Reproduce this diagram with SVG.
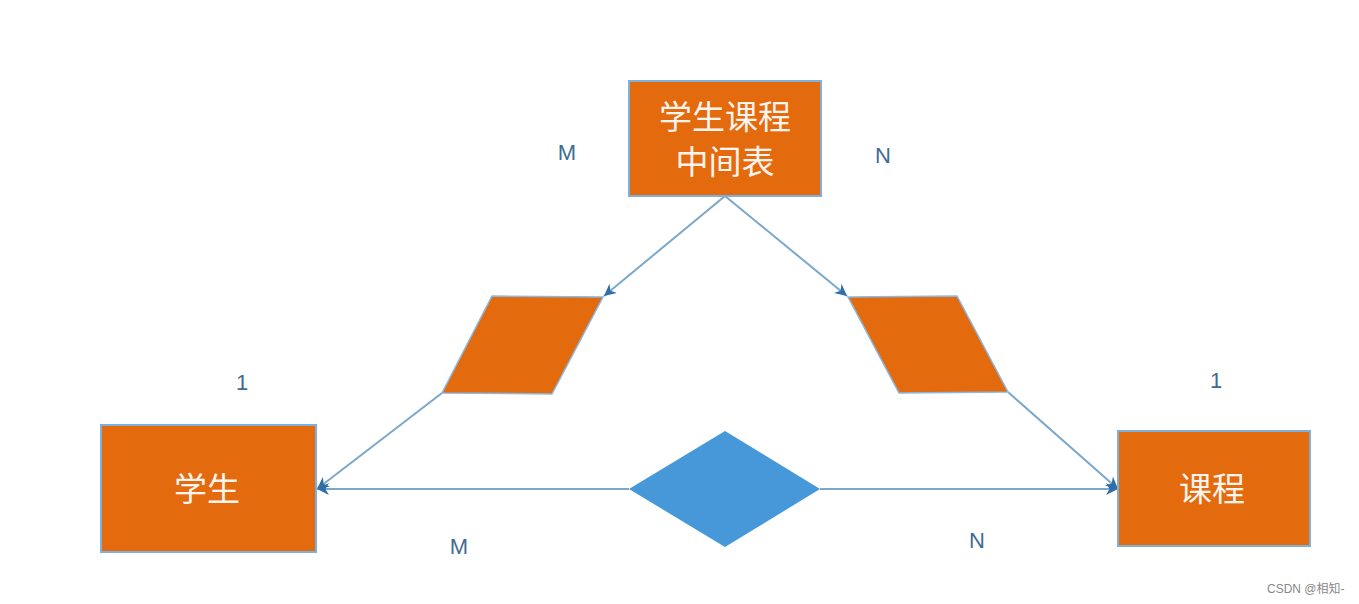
<svg xmlns="http://www.w3.org/2000/svg" width="1359" height="604" viewBox="0 0 1359 604">
<style>
.box{fill:#e46a0e;stroke:#7fb0dc;stroke-width:2}
.para{fill:#e46a0e;stroke:#8ab8e0;stroke-width:1.5}
.dia{fill:#4698d9}
.t{font-family:"Noto Sans CJK SC","Liberation Sans",sans-serif;fill:#fff4ee;font-size:33px;text-anchor:middle}
.lbl{font-family:"Liberation Sans",Arial,sans-serif;fill:#3f6b94;font-size:22px;text-anchor:middle}
.ln{stroke:#7ba7cb;stroke-width:2;fill:none;marker-end:url(#ah)}
.wm{font-family:"Liberation Sans","Noto Sans CJK SC",sans-serif;fill:#888;font-size:12px}
</style>
<defs>
<marker id="ah" viewBox="0 0 10 10" refX="10" refY="5" markerWidth="13" markerHeight="12" orient="auto" markerUnits="userSpaceOnUse">
<path d="M0,0 L10,5 L0,10 L3,5 Z" fill="#2f6ea6"/>
</marker>
</defs>
<rect width="1359" height="604" fill="#ffffff"/>
<g id="connectors">
<line class="ln" x1="725" y1="196" x2="604" y2="296"/>
<line class="ln" x1="725" y1="196" x2="847" y2="296"/>
<line class="ln" x1="442" y1="393" x2="317" y2="489"/>
<line class="ln" x1="1008" y1="392" x2="1118" y2="489"/>
<line class="ln" x1="629" y1="489" x2="317" y2="489"/>
<line class="ln" x1="820" y1="489" x2="1118" y2="489"/>
</g>
<g id="node-middle">
<rect class="box" x="629" y="81" width="192" height="115"/>
<text class="t" x="725" y="129">学生课程</text>
<text class="t" x="725" y="174">中间表</text>
</g>
<g id="node-para-left">
<polygon class="para" points="492,296 603,297 552,394 442,393"/>
</g>
<g id="node-para-right">
<polygon class="para" points="848,297 957,296 1008,392 899,393"/>
</g>
<g id="node-student">
<rect class="box" x="101" y="425" width="215" height="127"/>
<text class="t" x="207" y="501">学生</text>
</g>
<g id="node-course">
<rect class="box" x="1118" y="431" width="192" height="115"/>
<text class="t" x="1212" y="501">课程</text>
</g>
<g id="node-diamond">
<polygon class="dia" points="725,431 820,489 725,547 629,489"/>
</g>
<g id="labels">
<text class="lbl" x="567" y="160">M</text>
<text class="lbl" x="883" y="163">N</text>
<text class="lbl" x="242" y="390">1</text>
<text class="lbl" x="1216" y="388">1</text>
<text class="lbl" x="459" y="554">M</text>
<text class="lbl" x="977" y="548">N</text>
</g>
<text class="wm" x="1267" y="593">CSDN @相知-</text>
</svg>
